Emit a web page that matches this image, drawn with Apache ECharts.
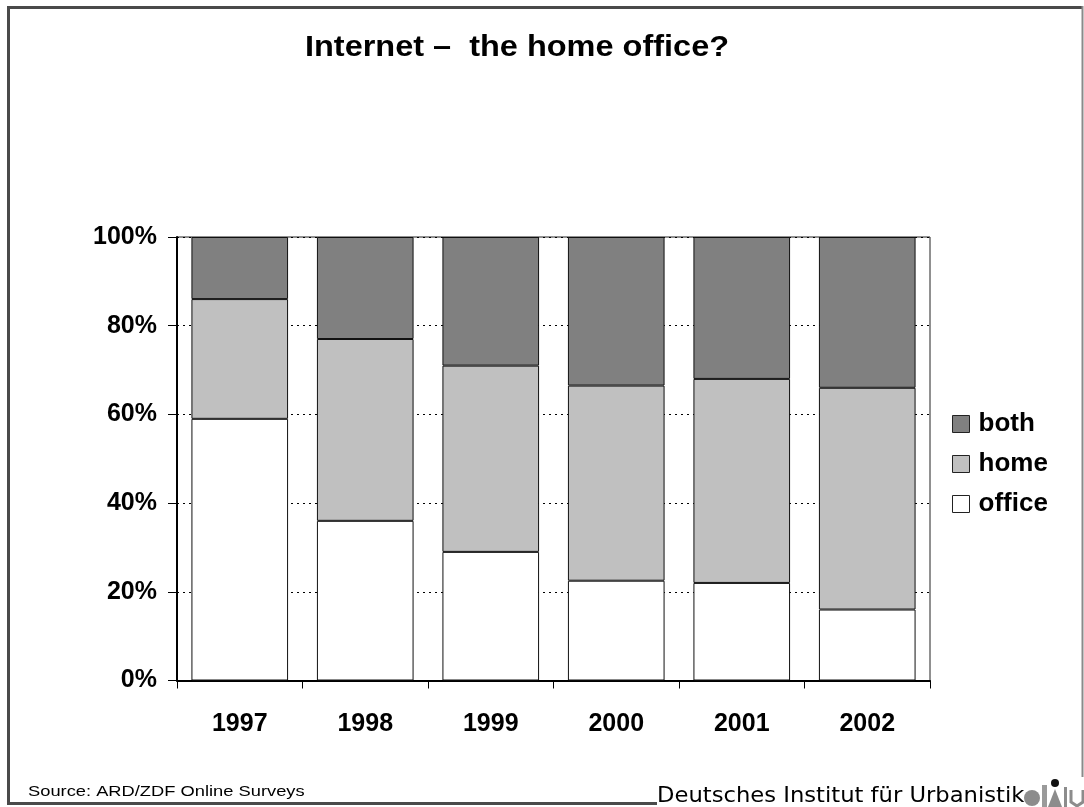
<!DOCTYPE html>
<html>
<head>
<meta charset="utf-8">
<title>Internet – the home office?</title>
<script src="https://cdn.jsdelivr.net/npm/echarts@6/dist/echarts.min.js"></script>
<style>
  html, body { margin: 0; padding: 0; background: #fff; }
  #chart { width: 1084px; height: 807px; }
</style>
</head>
<body>
<div id="chart"></div>
<script>
// Survey years and share of internet users by place of access (percent)
const years = ['1997', '1998', '1999', '2000', '2001', '2002'];
const office = [59, 36, 29, 22.5, 22, 16];
const home = [27, 41, 42, 44, 46, 50];
const both = [14, 23, 29, 33.5, 32, 34];
const yTicks = [0, 20, 40, 60, 80, 100];

const FONT = '"Liberation Sans", Arial, sans-serif';
const chart = echarts.init(document.getElementById('chart'), null, { renderer: 'canvas' });

const barBase = {
  type: 'bar',
  stack: 'total',
  barCategoryGap: '23%',
  emphasis: { disabled: true }
};

chart.setOption({
  animation: false,
  backgroundColor: '#fff',
  grid: {
    left: 177, right: 154, top: 237, bottom: 126.5,
    show: true, borderColor: '#222', borderWidth: 1, backgroundColor: 'transparent'
  },
  legend: {
    orient: 'vertical',
    left: 952,
    top: 411,
    padding: 0,
    data: ['both', 'home', 'office'],
    icon: 'rect',
    itemWidth: 17,
    itemHeight: 17,
    itemGap: 14,
    itemStyle: { borderColor: '#222', borderWidth: 1 },
    textStyle: { fontFamily: FONT, fontWeight: 'bold', fontSize: 26, color: '#000', lineHeight: 22, padding: [0, 0, 0, 4] }
  },
  xAxis: {
    type: 'category',
    data: years,
    axisLine: { lineStyle: { color: '#000', width: 2 } },
    axisTick: { show: true, length: 8, lineStyle: { color: '#000', width: 1 } },
    axisLabel: { fontFamily: FONT, fontWeight: 'bold', fontSize: 25, color: '#000', margin: 31 },
    splitLine: { show: false }
  },
  yAxis: {
    type: 'value',
    min: yTicks[0],
    max: yTicks[yTicks.length - 1],
    interval: yTicks[1] - yTicks[0],
    axisLine: { show: true, lineStyle: { color: '#000', width: 2 } },
    axisTick: { show: true, length: 9, lineStyle: { color: '#000', width: 1 } },
    axisLabel: { fontFamily: FONT, fontWeight: 'bold', fontSize: 25, color: '#000', margin: 20, formatter: '{value}%' },
    splitLine: { show: true, lineStyle: { color: '#000', width: 1, type: [2, 4] } }
  },
  series: [
    Object.assign({}, barBase, { name: 'office', data: office, itemStyle: { color: '#ffffff', borderColor: '#111', borderWidth: 1 } }),
    Object.assign({}, barBase, { name: 'home', data: home, itemStyle: { color: '#c0c0c0', borderColor: '#111', borderWidth: 1 } }),
    Object.assign({}, barBase, { name: 'both', data: both, itemStyle: { color: '#808080', borderColor: '#111', borderWidth: 1 } })
  ],
  graphic: [
    // slide frame
    { type: 'line', shape: { x1: 8.5, y1: 6, x2: 8.5, y2: 805 }, style: { stroke: '#4a4a4a', lineWidth: 3 } },
    { type: 'line', shape: { x1: 7, y1: 7.5, x2: 1083, y2: 7.5 }, style: { stroke: '#4a4a4a', lineWidth: 3 } },
    { type: 'line', shape: { x1: 7, y1: 803.5, x2: 657, y2: 803.5 }, style: { stroke: '#4a4a4a', lineWidth: 3 } },
    { type: 'line', shape: { x1: 1082.5, y1: 6, x2: 1082.5, y2: 777 }, style: { stroke: '#8a8a8a', lineWidth: 2 } },
    // title
    {
      type: 'text', x: 517, y: 48, scaleX: 1.12,
      style: { text: 'Internet –  the home office?', font: 'bold 29px ' + FONT, fill: '#000', align: 'center', verticalAlign: 'middle' }
    },
    // source note
    {
      type: 'text', x: 28, y: 792, scaleX: 1.22,
      style: { text: 'Source: ARD/ZDF Online Surveys', font: '15px ' + FONT, fill: '#000', align: 'left', verticalAlign: 'middle' }
    },
    // institute name
    {
      type: 'text', x: 657, y: 796, scaleX: 1.03,
      style: { text: 'Deutsches Institut für Urbanistik', font: '22px "DejaVu Sans", sans-serif', fill: '#000', align: 'left', verticalAlign: 'middle' }
    },
    // institute logo
    { type: 'circle', shape: { cx: 1032, cy: 798, r: 8 }, style: { fill: '#8c8c8c' } },
    { type: 'rect', shape: { x: 1042, y: 785, width: 5, height: 22 }, style: { fill: '#9a9a9a' } },
    { type: 'circle', shape: { cx: 1055, cy: 783, r: 4 }, style: { fill: '#111' } },
    { type: 'polygon', shape: { points: [[1055, 789], [1048, 807], [1062, 807]] }, style: { fill: '#8c8c8c' } },
    { type: 'rect', shape: { x: 1064, y: 787, width: 3, height: 20 }, style: { fill: '#8c8c8c' } },
    { type: 'polyline', shape: { points: [[1071, 790], [1071, 802], [1077, 806], [1083, 802], [1083, 790]] }, style: { stroke: '#8c8c8c', lineWidth: 3, fill: null } }
  ]
});
</script>
</body>
</html>
